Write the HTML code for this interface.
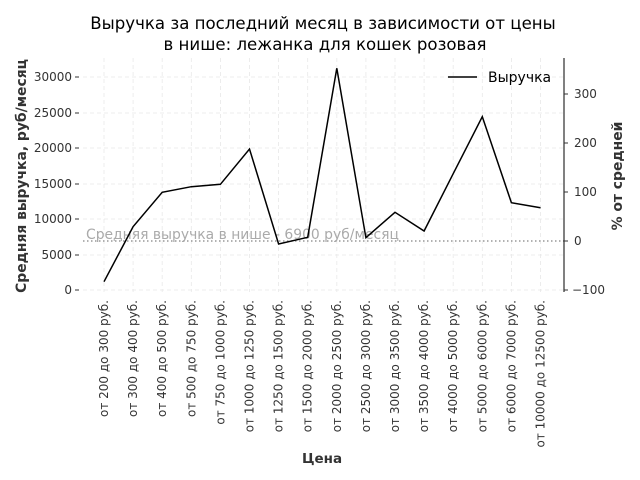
<!DOCTYPE html>
<html><head><meta charset="utf-8"><style>body{margin:0;background:#fff}svg{display:block}text{font-family:"DejaVu Sans","Liberation Sans",sans-serif}</style></head><body>
<svg width="640" height="480" xmlns="http://www.w3.org/2000/svg">
<text x="323" y="29" font-size="16.6" text-anchor="middle" fill="#000">Выручка за последний месяц в зависимости от цены</text>
<text x="325" y="50" font-size="16.6" text-anchor="middle" fill="#000">в нише: лежанка для кошек розовая</text>
<g stroke="#e8e8e8" stroke-dasharray="4,3" stroke-width="0.8">
<line x1="83" y1="77" x2="564" y2="77"/><line x1="83" y1="113" x2="564" y2="113"/><line x1="83" y1="148" x2="564" y2="148"/><line x1="83" y1="184" x2="564" y2="184"/><line x1="83" y1="219" x2="564" y2="219"/><line x1="83" y1="255" x2="564" y2="255"/><line x1="83" y1="290" x2="564" y2="290"/>
<line x1="104" y1="58" x2="104" y2="292"/><line x1="133.1" y1="58" x2="133.1" y2="292"/><line x1="162.2" y1="58" x2="162.2" y2="292"/><line x1="191.3" y1="58" x2="191.3" y2="292"/><line x1="220.4" y1="58" x2="220.4" y2="292"/><line x1="249.5" y1="58" x2="249.5" y2="292"/><line x1="278.6" y1="58" x2="278.6" y2="292"/><line x1="307.7" y1="58" x2="307.7" y2="292"/><line x1="336.8" y1="58" x2="336.8" y2="292"/><line x1="365.9" y1="58" x2="365.9" y2="292"/><line x1="395" y1="58" x2="395" y2="292"/><line x1="424.1" y1="58" x2="424.1" y2="292"/><line x1="453.2" y1="58" x2="453.2" y2="292"/><line x1="482.3" y1="58" x2="482.3" y2="292"/><line x1="511.4" y1="58" x2="511.4" y2="292"/><line x1="540.5" y1="58" x2="540.5" y2="292"/>
</g>
<line x1="83" y1="241" x2="564" y2="241" stroke="#999" stroke-width="1.5" stroke-dasharray="1.5,2.5"/>
<text x="86" y="239" font-size="13.9" fill="#aaa">Средняя выручка в нише - 6900 руб/месяц</text>
<polyline fill="none" stroke="#000" stroke-width="1.5" points="104,281.7 133.1,226.7 162.2,192.3 191.3,186.7 220.4,184.3 249.5,149 278.6,244 307.7,237.3 336.8,68.3 365.9,237.7 395,212.3 424.1,231 453.2,173.7 482.3,116.7 511.4,202.7 540.5,207.7"/>
<line x1="564" y1="58" x2="564" y2="292" stroke="#000" stroke-width="1"/>
<g font-size="12" fill="#333" text-anchor="end">
<text x="72" y="81">30000</text><text x="72" y="117">25000</text><text x="72" y="152">20000</text><text x="72" y="188">15000</text><text x="72" y="223">10000</text><text x="72" y="259">5000</text><text x="72" y="294">0</text>
</g>
<g stroke="#333"><line x1="75" y1="77" x2="79" y2="77"/><line x1="75" y1="113" x2="79" y2="113"/><line x1="75" y1="148" x2="79" y2="148"/><line x1="75" y1="184" x2="79" y2="184"/><line x1="75" y1="219" x2="79" y2="219"/><line x1="75" y1="255" x2="79" y2="255"/><line x1="75" y1="290" x2="79" y2="290"/>
<line x1="564" y1="94" x2="568" y2="94"/><line x1="564" y1="143" x2="568" y2="143"/><line x1="564" y1="192" x2="568" y2="192"/><line x1="564" y1="241" x2="568" y2="241"/><line x1="564" y1="290" x2="568" y2="290"/></g>
<g font-size="12" fill="#333">
<text x="574" y="98">300</text><text x="574" y="147">200</text><text x="574" y="196">100</text><text x="574" y="245">0</text><text x="572" y="294">−100</text>
</g>
<g font-size="12" fill="#333" text-anchor="end">
<text transform="translate(108,300) rotate(-90)">от 200 до 300 руб.</text>
<text transform="translate(137.1,300) rotate(-90)">от 300 до 400 руб.</text>
<text transform="translate(166.2,300) rotate(-90)">от 400 до 500 руб.</text>
<text transform="translate(195.3,300) rotate(-90)">от 500 до 750 руб.</text>
<text transform="translate(224.4,300) rotate(-90)">от 750 до 1000 руб.</text>
<text transform="translate(253.5,300) rotate(-90)">от 1000 до 1250 руб.</text>
<text transform="translate(282.6,300) rotate(-90)">от 1250 до 1500 руб.</text>
<text transform="translate(311.7,300) rotate(-90)">от 1500 до 2000 руб.</text>
<text transform="translate(340.8,300) rotate(-90)">от 2000 до 2500 руб.</text>
<text transform="translate(369.9,300) rotate(-90)">от 2500 до 3000 руб.</text>
<text transform="translate(399,300) rotate(-90)">от 3000 до 3500 руб.</text>
<text transform="translate(428.1,300) rotate(-90)">от 3500 до 4000 руб.</text>
<text transform="translate(457.2,300) rotate(-90)">от 4000 до 5000 руб.</text>
<text transform="translate(486.3,300) rotate(-90)">от 5000 до 6000 руб.</text>
<text transform="translate(515.4,300) rotate(-90)">от 6000 до 7000 руб.</text>
<text transform="translate(544.5,300) rotate(-90)">от 10000 до 12500 руб.</text>
</g>
<text x="322" y="463" font-size="13.5" font-weight="bold" fill="#333" text-anchor="middle">Цена</text>
<text transform="translate(26,176) rotate(-90)" font-size="13.9" font-weight="bold" fill="#333" text-anchor="middle">Средняя выручка, руб/месяц</text>
<text transform="translate(622,176) rotate(-90)" font-size="13.9" font-weight="bold" fill="#333" text-anchor="middle">% от средней</text>
<line x1="448" y1="77" x2="477" y2="77" stroke="#000" stroke-width="1.5"/>
<text x="488" y="82" font-size="14" fill="#000">Выручка</text>
</svg>
</body></html>
